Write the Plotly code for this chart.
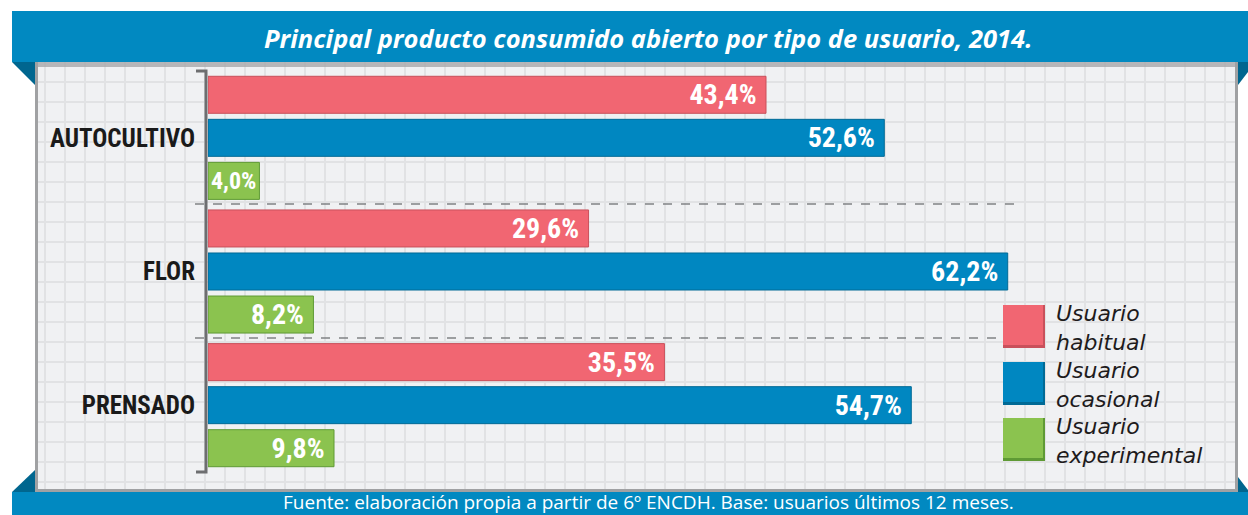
import plotly.graph_objects as go

# ---------------- data ----------------
categories = ["AUTOCULTIVO", "FLOR", "PRENSADO"]
habitual = [43.4, 29.6, 35.5]
ocasional = [52.6, 62.2, 54.7]
experimental = [4.0, 8.2, 9.8]
series_names = ["Usuario habitual", "Usuario ocasional", "Usuario experimental"]
legend_lines = [("Usuario", "habitual"), ("Usuario", "ocasional"), ("Usuario", "experimental")]
title_text = "Principal producto consumido abierto por tipo de usuario, 2014."
footer_text = "Fuente: elaboración propia a partir de 6º ENCDH. Base: usuarios últimos 12 meses."

# ---------------- style ----------------
W, H = 1248, 515
PINK, PINK_D = "#F16672", "#C9505B"
BLUE, BLUE_D = "#0087C1", "#006A96"
GREEN, GREEN_D = "#8BC34F", "#5F9A35"
BANNER = "#0189C1"
BANNER_D = "#00668F"
PANEL = "#F0F1F3"
GRID = "#E1E2E4"
COND = "'Roboto Condensed', 'DejaVu Sans Condensed', 'Liberation Sans Narrow', Roboto, sans-serif"
TEXT_FONT = "'Open Sans', sans-serif"
LEG_FONT = "'DejaVu Sans', sans-serif"


def px(x):
    return x / W


def py(y):
    return 1 - y / H


def fmt(v):
    s = f"{v:.1f}%".replace(".", ",")
    return s + "\u00a0" if v > 6 else s


def label_size(v):
    return 28 if v > 6 else 24


fig = go.Figure()
for vals, name, col, dcol in [
    (habitual, series_names[0], PINK, PINK_D),
    (ocasional, series_names[1], BLUE, BLUE_D),
    (experimental, series_names[2], GREEN, GREEN_D),
]:
    fig.add_trace(go.Bar(
        y=categories, x=vals, name=name, orientation="h",
        marker=dict(color=col, line=dict(color=dcol, width=1)),
        text=[fmt(v) for v in vals], textposition="inside",
        insidetextanchor="end", constraintext="none",
        textfont=dict(family=COND, size=[label_size(v) for v in vals], color="white", weight="bold"),
        hoverinfo="skip", showlegend=False,
    ))

shapes = []
shapes.append(dict(type="rect", xref="paper", yref="paper", x0=px(12), x1=px(1248),
                   y0=py(62), y1=py(11), fillcolor=BANNER, line_width=0, layer="below"))
shapes.append(dict(type="rect", xref="paper", yref="paper", x0=px(12), x1=px(1248),
                   y0=py(515), y1=py(492), fillcolor=BANNER, line_width=0, layer="below"))
shapes.append(dict(type="rect", xref="paper", yref="paper", x0=px(35), x1=px(1238),
                   y0=py(492), y1=py(62), fillcolor=PANEL, line_width=0, layer="below"))
x = 45
while x < 1237:
    shapes.append(dict(type="line", xref="paper", yref="paper", x0=px(x), x1=px(x),
                       y0=py(492), y1=py(62), line=dict(color=GRID, width=2), layer="below"))
    x += 20
y = 82
while y < 492:
    shapes.append(dict(type="line", xref="paper", yref="paper", x0=px(35), x1=px(1238),
                       y0=py(y), y1=py(y), line=dict(color=GRID, width=2), layer="below"))
    y += 20
shapes.append(dict(type="rect", xref="paper", yref="paper", x0=px(35), x1=px(1238),
                   y0=py(67), y1=py(62), fillcolor="#A7A8AA", line_width=0, layer="below", opacity=0.8))
shapes.append(dict(type="rect", xref="paper", yref="paper", x0=px(35), x1=px(38),
                   y0=py(492), y1=py(62), fillcolor="#A0A1A3", line_width=0, layer="below"))
shapes.append(dict(type="rect", xref="paper", yref="paper", x0=px(1235), x1=px(1238),
                   y0=py(492), y1=py(62), fillcolor="#A0A1A3", line_width=0, layer="below"))
shapes.append(dict(type="rect", xref="paper", yref="paper", x0=px(35), x1=px(1238),
                   y0=py(492), y1=py(489), fillcolor="#A0A1A3", line_width=0, layer="below"))


def poly(pts, color):
    d = "M " + " L ".join(f"{px(a)},{py(b)}" for a, b in pts) + " Z"
    return dict(type="path", xref="paper", yref="paper", path=d, fillcolor=color,
                line_width=0, layer="below")


shapes.append(poly([(12, 62), (35, 62), (35, 85)], BANNER_D))
shapes.append(poly([(1238, 62), (1248, 62), (1248, 72), (1238, 85)], BANNER_D))
shapes.append(poly([(12, 492), (35, 470), (35, 492)], BANNER_D))
shapes.append(poly([(1238, 492), (1238, 477), (1248, 490), (1248, 492)], BANNER_D))

for yy in (204, 338):
    shapes.append(dict(type="line", xref="paper", yref="paper", x0=px(195), x1=px(1020),
                       y0=py(yy), y1=py(yy), line=dict(color="#808285", width=1.5, dash="dash"),
                       layer="below"))

shapes.append(dict(type="path", xref="paper", yref="paper",
                   path=f"M {px(196)},{py(71)} L {px(206)},{py(71)} L {px(206)},{py(472)} L {px(196)},{py(472)}",
                   line=dict(color="#6D6E70", width=3), layer="above"))

annotations = []
legend_tops = [305, 362, 418]
legend_cols = [(PINK, PINK_D), (BLUE, BLUE_D), (GREEN, GREEN_D)]
for top, (col, dcol), (l1, l2) in zip(legend_tops, legend_cols, legend_lines):
    shapes.append(dict(type="rect", xref="paper", yref="paper", x0=px(1003), x1=px(1045),
                       y0=py(top + 43), y1=py(top), fillcolor=dcol, line_width=0, layer="above"))
    shapes.append(dict(type="rect", xref="paper", yref="paper", x0=px(1003), x1=px(1043),
                       y0=py(top + 40), y1=py(top), fillcolor=col, line_width=0, layer="above"))
    annotations.append(dict(xref="paper", yref="paper", x=px(1054), y=py(top + 23),
                            text=f"{l1}<br>{l2}", showarrow=False, xanchor="left", yanchor="middle",
                            align="left",
                            font=dict(family=LEG_FONT, size=22, color="#1E1B1C", style="italic")))

annotations.append(dict(xref="paper", yref="paper", x=px(648), y=py(38), text=title_text,
                        showarrow=False, xanchor="center", yanchor="middle",
                        font=dict(family=TEXT_FONT, size=25.5, color="white", weight="bold", style="italic")))
annotations.append(dict(xref="paper", yref="paper", x=px(648), y=py(502), text=footer_text,
                        showarrow=False, xanchor="center", yanchor="middle",
                        font=dict(family=TEXT_FONT, size=19, color="white")))

fig.update_layout(
    width=W, height=H, autosize=False,
    margin=dict(l=0, r=0, t=0, b=0, pad=0),
    paper_bgcolor="white", plot_bgcolor="rgba(0,0,0,0)",
    barmode="group", bargap=0.034, bargroupgap=0.14,
    shapes=shapes, annotations=annotations,
    xaxis=dict(domain=[px(208), px(1018)], range=[0, 63], showgrid=False, zeroline=False,
               showticklabels=False, ticks="", fixedrange=True),
    yaxis=dict(domain=[py(472), py(71)], range=[2.5, -0.5], showgrid=False, zeroline=False,
               showline=False, ticks="", ticklabelstandoff=12,
               tickfont=dict(family=COND, size=25, color="#1A1A1A", weight="bold"),
               fixedrange=True),
    showlegend=False,
)

fig.write_html("out.html", config={"displayModeBar": False},
               post_script="document.body.style.margin='0';document.body.style.overflow='hidden';")
